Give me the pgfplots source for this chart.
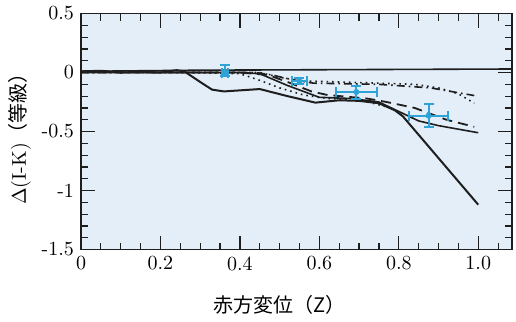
\documentclass[border=0pt]{standalone}
\usepackage{fontspec}
\usepackage{pgfplots}
\pgfplotsset{compat=1.18}
\newfontfamily\cjk{Noto Sans CJK JP}
\definecolor{bg}{HTML}{E3EEF8}
\definecolor{eb}{HTML}{2EA3D5}
\definecolor{ln}{HTML}{1E1E1E}
\begin{document}
\begin{tikzpicture}[font=\fontsize{10}{12}\selectfont]
\begin{axis}[
  set layers=standard,
  scale only axis, width=215.5pt, height=118pt,
  xmin=0, xmax=1.085, ymin=-1.5, ymax=0.5,
  xtick={0,0.2,0.4,0.6,0.8,1.0},
  xticklabel={\ifdim\tick pt=0pt 0\else\pgfmathprintnumber[fixed,fixed zerofill,precision=1,assume math mode=true]{\tick}\fi},
  minor xtick={0.05,0.1,0.15,0.25,0.3,0.35,0.45,0.5,0.55,0.65,0.7,0.75,0.85,0.9,0.95,1.05},
  ytick={-1.5,-1,-0.5,0,0.5},
  yticklabel={\pgfmathprintnumber[assume math mode=true]{\tick}},
  minor ytick={-1.4,-1.3,-1.2,-1.1,-0.9,-0.8,-0.7,-0.6,-0.4,-0.3,-0.2,-0.1,0.1,0.2,0.3,0.4},
  tick align=inside, tick pos=both,
  major tick length=7pt, minor tick length=3.5pt,
  every tick/.style={ln, line width=0.6pt},
  axis line style={ln, line width=0.6pt},
  xlabel={{\cjk 赤方変位（Z）}},
  ylabel={$\Delta$(I-K){\cjk（等級）}},
  xlabel style={at={(axis description cs:0.46,-0.233)}, anchor=center},
  ylabel style={at={(axis description cs:-0.142,0.49)}, anchor=center},
]
\begin{pgfonlayer}{axis background}
\fill[bg] (rel axis cs:0,0) rectangle (rel axis cs:1,1);
\end{pgfonlayer}
% horizontal reference line
\addplot[ln, line width=0.8pt] coordinates {(0,0.01) (0.3,0.02) (1.085,0.03)};
% lower solid (steep)
\addplot[ln, line width=1pt] coordinates {
 (0,0.01) (0.05,0.015) (0.1,0.0) (0.15,0.005) (0.2,0.0) (0.24,0.02) (0.26,0.01)
 (0.30,-0.08) (0.33,-0.145) (0.36,-0.16) (0.45,-0.14) (0.52,-0.2) (0.59,-0.255)
 (0.65,-0.235) (0.70,-0.24) (0.75,-0.26) (0.79,-0.32) (0.81,-0.37) (1.0,-1.12)};
% middle solid
\addplot[ln, line width=0.8pt] coordinates {
 (0,0.0) (0.26,0.0) (0.40,0.0) (0.45,-0.01) (0.52,-0.11) (0.60,-0.21) (0.68,-0.22)
 (0.75,-0.25) (0.80,-0.33) (0.85,-0.41) (0.90,-0.45) (1.0,-0.51)};
% dashed
\addplot[ln, line width=0.9pt, dash pattern=on 5pt off 3pt] coordinates {
 (0,0.01) (0.26,0.0) (0.40,0.0) (0.47,-0.02) (0.52,-0.08) (0.58,-0.16) (0.62,-0.19)
 (0.72,-0.22) (0.77,-0.25) (0.84,-0.30) (0.92,-0.40) (0.99,-0.46)};
% dash-dot
\addplot[ln, line width=0.8pt, dash pattern=on 4pt off 2pt on 0.8pt off 2pt] coordinates {
 (0,0.0) (0.3,0.0) (0.44,0.0) (0.48,-0.02) (0.53,-0.06) (0.585,-0.09) (0.75,-0.10)
 (0.88,-0.13) (0.99,-0.195)};
% dotted upper
\addplot[ln, line width=0.8pt, dash pattern=on 0.8pt off 2pt] coordinates {
 (0,0.0) (0.30,0.0) (0.45,0.0) (0.50,-0.04) (0.55,-0.07) (0.65,-0.08) (0.75,-0.09)
 (0.84,-0.10) (0.90,-0.13) (0.95,-0.18) (0.99,-0.26)};
% dotted lower
\addplot[ln, line width=0.8pt, dash pattern=on 0.8pt off 2pt] coordinates {
 (0.28,0.0) (0.40,-0.01) (0.445,-0.06) (0.50,-0.13) (0.56,-0.19) (0.62,-0.22)
 (0.70,-0.23) (0.78,-0.30)};
% observational points with error bars
\addplot[eb, only marks, mark=*, mark size=1.3pt,
  error bars/.cd, x dir=both, x explicit, y dir=both, y explicit,
  error bar style={line width=1pt, eb},
  error mark options={eb, line width=1pt, mark size=2.5pt, rotate=90}]
 coordinates {
 (0.362,0.0) += (0.008,0.06) -= (0.008,0.03)
 (0.55,-0.075) +- (0.02,0.025)
 (0.693,-0.165) +- (0.052,0.055)
 (0.875,-0.365) +- (0.05,0.095)
};
% tick marks on all four sides (inward)
\pgfplotsinvokeforeach{0,0.2,0.4,0.6,0.8,1.0}{
  \draw[ln, line width=0.6pt] (axis cs:#1,-1.5) -- ++(0pt,7pt);
  \draw[ln, line width=0.6pt] (axis cs:#1,0.5) -- ++(0pt,-7pt);
}
\pgfplotsinvokeforeach{0.05,0.1,0.15,0.25,0.3,0.35,0.45,0.5,0.55,0.65,0.7,0.75,0.85,0.9,0.95,1.05}{
  \draw[ln, line width=0.6pt] (axis cs:#1,-1.5) -- ++(0pt,3.5pt);
  \draw[ln, line width=0.6pt] (axis cs:#1,0.5) -- ++(0pt,-3.5pt);
}
\pgfplotsinvokeforeach{-1.5,-1,-0.5,0,0.5}{
  \draw[ln, line width=0.6pt] (axis cs:0,#1) -- ++(7pt,0pt);
  \draw[ln, line width=0.6pt] (axis cs:1.085,#1) -- ++(-7pt,0pt);
}
\pgfplotsinvokeforeach{-1.4,-1.3,-1.2,-1.1,-0.9,-0.8,-0.7,-0.6,-0.4,-0.3,-0.2,-0.1,0.1,0.2,0.3,0.4}{
  \draw[ln, line width=0.6pt] (axis cs:0,#1) -- ++(3.5pt,0pt);
  \draw[ln, line width=0.6pt] (axis cs:1.085,#1) -- ++(-3.5pt,0pt);
}
\end{axis}
\path ([shift={(-40.5pt,-36pt)}]current axis.south west) rectangle ([shift={(2pt,6pt)}]current axis.north east);
\end{tikzpicture}
\end{document}
